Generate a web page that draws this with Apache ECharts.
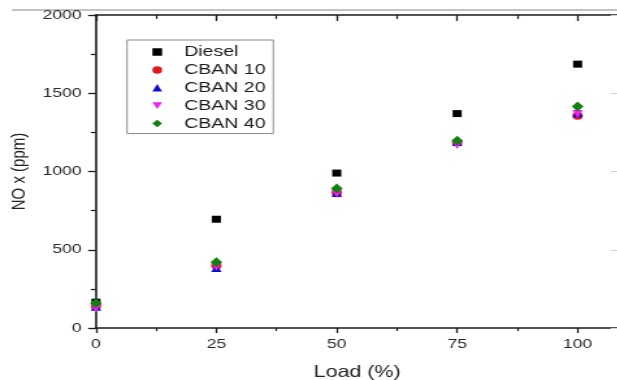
<!DOCTYPE html>
<html>
<head>
<meta charset="utf-8">
<script src="https://cdn.jsdelivr.net/npm/echarts@6/dist/echarts.min.js"></script>
<style>
  html, body { margin: 0; padding: 0; background: #fff; overflow: hidden; }
  /* the source figure is stretched horizontally, so draw narrower and stretch */
  #chart { width: 475px; height: 380px; transform: scaleX(1.3); transform-origin: 0 0; }
</style>
</head>
<body>
<div id="chart"></div>
<script>
const loads = [0, 25, 50, 75, 100]
const diesel = [165, 695, 990, 1370, 1686]
const cban10 = [140, 400, 865, 1185, 1356]
const cban20 = [135, 383, 862, 1188, 1373]
const cban30 = [125, 392, 858, 1170, 1368]
const cban40 = [158, 420, 892, 1196, 1415]

const seriesDefs = [
  { name: 'Diesel', data: diesel, symbol: 'rect', size: [7, 7], color: '#000000' },
  { name: 'CBAN 10', data: cban10, symbol: 'circle', size: [8, 8], color: '#e01818' },
  { name: 'CBAN 20', data: cban20, symbol: 'triangle', size: [8, 8], color: '#0a0ad0' },
  { name: 'CBAN 30', data: cban30, symbol: 'path://M0,0 L10,0 L5,9 Z', size: [8, 8], color: '#f020f0' },
  { name: 'CBAN 40', data: cban40, symbol: 'diamond', size: [9, 10], color: '#108010' },
]

const font = 'Liberation Sans, Arial, sans-serif'
const ink = '#1a1a1a'
const axisLine = { show: true, onZero: false, lineStyle: { color: ink, width: 1.6 } }

const chart = echarts.init(document.getElementById('chart'))
chart.setOption({
  animation: false,
  textStyle: { fontFamily: font },
  grid: { left: 73.8, top: 15, width: 402, height: 313, outerBoundsMode: 'none' },
  legend: {
    orient: 'vertical',
    left: 97.7,
    top: 40,
    itemGap: 2.9,
    itemWidth: 7.5,
    itemHeight: 7.5,
    padding: [4.5, 6, 2.5, 19.5],
    borderColor: '#888',
    borderWidth: 1,
    textStyle: { fontFamily: font, fontSize: 15, lineHeight: 14, color: '#1a1a1a', padding: [0, 0, 0, 12] },
    data: seriesDefs.map((s) => s.name),
  },
  graphic: [
    { type: 'line', shape: { x1: 9, y1: 10, x2: 475, y2: 10 }, style: { stroke: '#888', lineWidth: 1 } },
  ],
  xAxis: [
    {
      type: 'value', min: 0, max: 108.5, interval: 25,
      name: 'Load (%)', nameLocation: 'middle', nameGap: 36,
      nameTextStyle: { fontFamily: font, fontSize: 16.5, color: '#222' },
      axisLine,
      axisTick: { show: true, length: 5, lineStyle: { color: ink, width: 1.3 } },
      minorTick: { show: true, splitNumber: 2, length: 3, lineStyle: { color: ink, width: 1.2 } },
      axisLabel: { fontFamily: font, fontSize: 13.5, color: '#2a2a2a', margin: 9, showMaxLabel: false, formatter: (v) => String(v) },
      splitLine: { show: false },
    },
    {
      type: 'value', position: 'top', min: 0, max: 108.5, interval: 25,
      axisLine,
      axisTick: { show: true, inside: true, length: 6, lineStyle: { color: ink, width: 1.3 } },
      minorTick: { show: true, splitNumber: 2, length: 4, lineStyle: { color: ink, width: 1.2 } },
      axisLabel: { show: false },
      splitLine: { show: false },
    },
  ],
  yAxis: [
    {
      type: 'value', min: 0, max: 2000, interval: 500,
      name: 'NO x (ppm)', nameLocation: 'middle', nameGap: 46,
      nameTextStyle: { fontFamily: font, fontSize: 15, color: '#222' },
      axisLine,
      axisTick: { show: true, length: 6, lineStyle: { color: ink, width: 1.3 } },
      minorTick: { show: true, splitNumber: 2, length: 4, lineStyle: { color: ink, width: 1.2 } },
      axisLabel: { fontFamily: font, fontSize: 13.5, color: '#2a2a2a', margin: 11, formatter: (v) => String(v) },
      splitLine: { show: false },
    },
    {
      type: 'value', position: 'right', min: 0, max: 2000, interval: 500,
      axisLine: { show: true, onZero: false, lineStyle: { color: '#ccc', width: 1 } },
      axisTick: { show: true, inside: true, length: 6, lineStyle: { color: '#d4d4d4', width: 1 } },
      axisLabel: { show: false },
      splitLine: { show: false },
    },
  ],
  series: seriesDefs.map((s) => ({
    name: s.name,
    type: 'scatter',
    symbol: s.symbol,
    symbolSize: s.size,
    itemStyle: { color: s.color, opacity: 1 },
    data: loads.map((x, i) => [x, s.data[i]]),
  })),
})
</script>
</body>
</html>
